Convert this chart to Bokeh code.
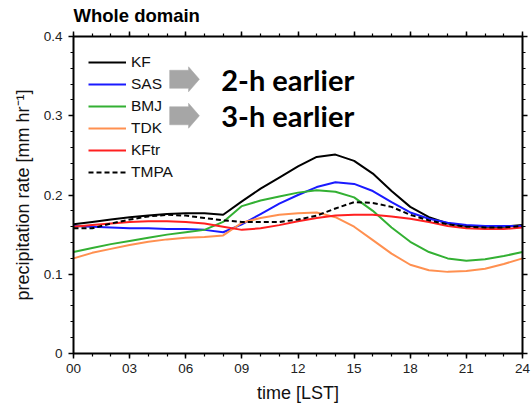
from bokeh.plotting import figure
from bokeh.models import (Range1d, FixedTicker, LinearAxis, Label, Legend,
                          CustomLabelingPolicy)
from bokeh.embed import file_html
from bokeh.resources import INLINE

# ---------------- data ----------------
hours = list(range(25))
KF = [.163, .166, .169, .172, .174, .176, .177, .177, .175, .192, .208, .222, .236,
      .248, .251, .243, .227, .205, .185, .172, .164, .161, .160, .160, .162]
SAS = [.161, .160, .159, .158, .158, .157, .157, .156, .153, .163, .176, .189, .200,
       .210, .216, .214, .205, .191, .178, .170, .165, .162, .161, .161, .161]
BMJ = [.128, .133, .138, .142, .146, .150, .153, .156, .166, .186, .193, .198, .203,
       .206, .204, .197, .180, .159, .141, .128, .120, .117, .119, .123, .128]
TDK = [.120, .127, .132, .137, .141, .144, .146, .147, .149, .165, .171, .175, .177,
       .178, .172, .160, .143, .126, .112, .105, .103, .104, .107, .113, .120]
KFtr = [.160, .162, .164, .166, .167, .167, .166, .164, .160, .156, .158, .162, .167,
        .171, .174, .175, .175, .173, .170, .166, .161, .158, .157, .157, .159]
TMPA = [.158, .158, .164, .169, .173, .175, .174, .171, .168, .166, .166, .166, .169,
        .174, .183, .191, .190, .185, .175, .168, .163, .160, .159, .159, .161]

x_ticks = [0, 3, 6, 9, 12, 15, 18, 21, 24]
x_tick_labels = ["00", "03", "06", "09", "12", "15", "18", "21", "24"]
y_ticks = [0.0, 0.1, 0.2, 0.3, 0.4]
y_tick_labels = ["0", "0.1", "0.2", "0.3", "0.4"]

notes = ["2-h earlier", "3-h earlier"]
note_y = [0.346, 0.300]

# ---------------- figure ----------------
FONT = "Liberation Sans"
p = figure(width=531, height=406, output_backend="svg", toolbar_location=None,
           x_range=Range1d(0, 24), y_range=Range1d(0, 0.4),
           min_border_left=73, min_border_right=5, min_border_top=34,
           min_border_bottom=53, title="Whole domain")
p.title.text_font = FONT
p.title.text_font_size = "18.5px"
p.title.text_font_style = "bold"
p.title.text_color = "black"
p.title.align = "left"
p.title.offset = 0
p.title.standoff = 4
p.outline_line_color = None
p.grid.visible = False
p.background_fill_color = "white"
p.border_fill_color = "white"

no_labels = CustomLabelingPolicy(code="""
    for (let i = 0; i < indices.size; i++) { indices.unset(i) }
    return indices
""")

def style_axis(ax, labels=True):
    ax.axis_line_width = 2
    ax.axis_line_color = "black"
    ax.major_tick_in = 0
    ax.major_tick_out = 5
    ax.minor_tick_in = 0
    ax.minor_tick_out = 3
    ax.major_tick_line_width = 1.5
    ax.minor_tick_line_width = 1.2
    ax.major_label_text_font = FONT
    ax.major_label_text_font_size = "13.5px" if labels else "1px"
    ax.major_label_text_color = "#222222"
    ax.axis_label_text_font = FONT
    ax.axis_label_text_font_size = "18px"
    ax.axis_label_text_font_style = "normal"
    ax.axis_label_text_color = "#111111"
    if not labels:
        ax.major_label_standoff = 0
        ax.major_label_policy = no_labels

xt = FixedTicker(ticks=x_ticks, minor_ticks=hours)
yt = FixedTicker(ticks=y_ticks, minor_ticks=[i * 0.02 for i in range(21)])

p.xaxis.ticker = xt
p.yaxis.ticker = yt
p.xaxis.major_label_overrides = dict(zip(x_ticks, x_tick_labels))
p.yaxis.major_label_overrides = dict(zip(y_ticks, y_tick_labels))
p.xaxis.axis_label = "time [LST]"
p.yaxis.axis_label = "precipitation rate [mm hr\u207b\u00b9]"
for ax in p.xaxis + p.yaxis:
    style_axis(ax)
p.xaxis.major_label_standoff = 5
p.yaxis.major_label_standoff = 6
p.xaxis.axis_label_standoff = 7
p.yaxis.axis_label_standoff = 8

top = LinearAxis(ticker=FixedTicker(ticks=x_ticks, minor_ticks=hours))
right = LinearAxis(ticker=FixedTicker(ticks=y_ticks, minor_ticks=[i * 0.02 for i in range(21)]))
style_axis(top, labels=False)
style_axis(right, labels=False)
p.add_layout(top, "above")
p.add_layout(right, "right")

# ---------------- series ----------------
series = [("KF", KF, "black", "solid"),
          ("SAS", SAS, "#1a1aff", "solid"),
          ("BMJ", BMJ, "#33b033", "solid"),
          ("TDK", TDK, "#ff9050", "solid"),
          ("KFtr", KFtr, "#ff2020", "solid"),
          ("TMPA", TMPA, "black", "5 3")]
items = []
for name, vals, col, dash in series:
    r = p.line(hours, vals, line_color=col, line_width=2, line_dash=dash)
    items.append((name, [r]))

leg = Legend(items=items, location="top_left")
leg.margin = 15
leg.padding = 0
leg.spacing = 0
leg.glyph_width = 38
leg.glyph_height = 22
leg.label_height = 22
leg.label_standoff = 5
leg.label_text_font = FONT
leg.label_text_font_size = "15.5px"
leg.label_text_color = "#111111"
leg.border_line_alpha = 0
leg.background_fill_alpha = 0
p.add_layout(leg)

# ---------------- annotation arrows & notes ----------------
body_x0, body_x1, tip_x = 5.14, 6.15, 6.73
body_h, head_h = 0.0114, 0.0158
for yc in note_y:
    xs = [body_x0, body_x1, body_x1, tip_x, body_x1, body_x1, body_x0]
    ys = [yc - body_h, yc - body_h, yc - head_h, yc, yc + head_h, yc + body_h, yc + body_h]
    p.patch(xs, ys, fill_color="#a6a6a6", line_color="#a6a6a6", line_width=0.5)

for txt, yc in zip(notes, note_y):
    p.add_layout(Label(x=7.9, y=yc, text=txt, text_font="Lato",
                       text_font_style="bold", text_font_size="29px",
                       text_baseline="middle", text_color="black"))

open("out.html", "w").write(file_html(p, INLINE))
